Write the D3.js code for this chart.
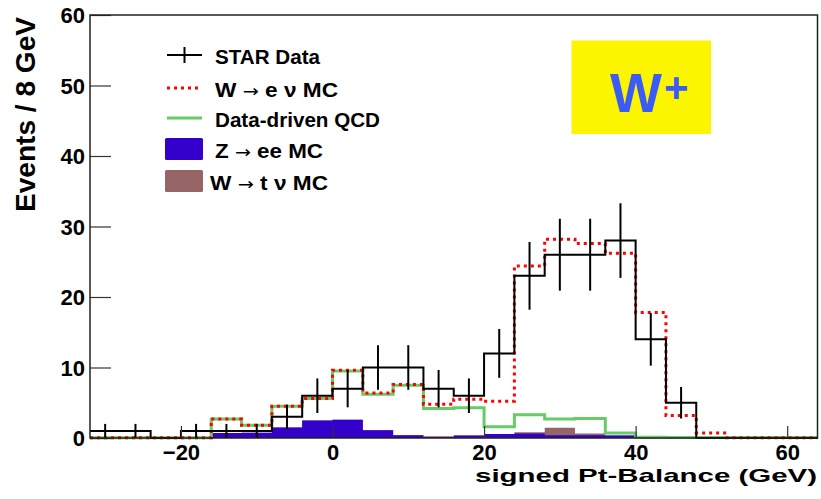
<!DOCTYPE html>
<html>
<head>
<meta charset="utf-8">
<script src="https://cdn.jsdelivr.net/npm/d3@7"></script>
<style>
  html, body { margin: 0; padding: 0; background: #fff; }
  svg text { font-family: "Liberation Sans", Arial, Helvetica, sans-serif; font-weight: bold; fill: #000; }
  svg tspan.arrow { font-family: "DejaVu Sans", sans-serif; font-weight: normal; }
</style>
</head>
<body>
<svg id="chart" width="821" height="499"></svg>
<script>
// bin lower edges (GeV), 4 GeV bins up to 64
const binLo = [-32, -28, -24, -20, -16, -12, -8, -4, 0, 4, 8, 12, 16, 20, 24, 28, 32, 36, 40, 44, 48, 52, 56, 60];
const binTop = 64;

// STAR data counts
const starData = [1, 1, 0, 1, 1, 1, 3, 6, 7, 10, 10, 7, 6, 12, 23, 26, 26, 28, 14, 5, 0, 0, 0, 0];
// W -> e nu MC (drawn dotted red)
const wenuMC = [0.05, 0.05, 0.05, 0.05, 2.7, 1.8, 4.5, 5.6, 9.6, 6.4, 7.6, 4.8, 5.5, 5.2, 24.4, 28.2, 27.6, 26.2, 17.8, 3.2, 0.7, 0.05, 0.05, 0.05];
// data-driven QCD background
const qcd = [0.05, 0.05, 0.05, 0.05, 2.7, 1.8, 4.5, 5.6, 9.5, 6.2, 7.5, 4.2, 4.3, 1.6, 3.3, 2.7, 2.75, 0.7, 0.1, 0.08, 0.08, 0.08, 0.08, 0.08];
// Z -> ee MC
const zee = [0, 0, 0, 0, 0.7, 0.75, 1.5, 2.5, 2.6, 1.1, 0.4, 0.15, 0.35, 0.55, 0.65, 0.4, 0.4, 0.35, 0, 0, 0, 0, 0, 0];
// W -> tau nu MC, stacked on Z
const wtau = [0, 0, 0, 0, 0, 0, 0, 0, 0, 0, 0, 0.1, 0, 0, 0.15, 1.05, 0.25, 0, 0, 0, 0, 0, 0, 0];

const xTicks = [-20, 0, 20, 40, 60];
const yTicks = [0, 10, 20, 30, 40, 50, 60];

// label pieces: [before arrow, after arrow]; no arrow when second part is null
const legendRows = [
    { parts: ['STAR Data', null], kind: 'data', w: 105 },
    { parts: ['W ', ' e \u03bd MC'], kind: 'red', w: 123 },
    { parts: ['Data-driven QCD', null], kind: 'green', w: 165 },
    { parts: ['Z ', ' ee MC'], kind: 'blue', w: 108 },
    { parts: ['W ', ' t \u03bd MC'], kind: 'brown', w: 118 }
];

const svg = d3.select('#chart');
const padL = 90, padR = 817.5, padT = 15, padB = 438;

const x = d3.scaleLinear().domain([-32, 64]).range([padL, padR]);
const y = d3.scaleLinear().domain([0, 60]).range([padB, padT]);

const COL_RED = '#ff0000', COL_GREEN = '#66cc66', COL_BLUE = '#3300cc', COL_BROWN = '#966666';

// points for a step histogram: one per lower edge, plus the closing edge
function stepPts(vals) {
    const pts = binLo.map((b, i) => [b, vals[i]]);
    pts.push([binTop, vals[vals.length - 1]]);
    return pts;
}

const stepLine = d3.line()
    .curve(d3.curveStepAfter)
    .x(d => x(d[0]))
    .y(d => y(d[1]));

const stepArea = d3.area()
    .curve(d3.curveStepAfter)
    .x(d => x(d[0]))
    .y0(y(0))
    .y1(d => y(d[1]));

const plot = svg.append('g');

// stacked fills: tau on top of Z
const zPlusTau = zee.map((v, i) => v + wtau[i]);
plot.append('path').attr('d', stepArea(stepPts(zPlusTau))).attr('fill', COL_BROWN);
plot.append('path').attr('d', stepArea(stepPts(zee))).attr('fill', COL_BLUE);

// axes (ticks point into the frame)
const xAxis = svg.append('g')
    .attr('transform', `translate(0,${padB})`)
    .call(d3.axisBottom(x).tickValues(xTicks).tickSize(-12).tickPadding(6));
const yAxis = svg.append('g')
    .attr('transform', `translate(${padL},0)`)
    .call(d3.axisLeft(y).tickValues(yTicks).tickSize(-21).tickPadding(5));
[xAxis, yAxis].forEach(g => {
    g.select('.domain').remove();
    g.selectAll('line').attr('stroke', '#333').attr('stroke-width', 1.2);
    g.selectAll('text').attr('font-size', 22).attr('fill', '#000');
});
yAxis.selectAll('text').attr('dy', '0.36em');

// QCD, W MC and data histograms
plot.append('path').attr('d', stepLine(stepPts(qcd)))
    .attr('fill', 'none').attr('stroke', COL_GREEN).attr('stroke-width', 3);
plot.append('path').attr('d', stepLine(stepPts(wenuMC)))
    .attr('fill', 'none').attr('stroke', COL_RED).attr('stroke-width', 3)
    .attr('stroke-dasharray', '3,4');
plot.append('path').attr('d', stepLine(stepPts(starData)))
    .attr('fill', 'none').attr('stroke', '#000').attr('stroke-width', 2);

// sqrt(N) error bars on the data
plot.selectAll('line.err')
    .data(starData.map((n, i) => ({ c: binLo[i] + 2, n })).filter(d => d.n > 0))
    .enter().append('line')
    .attr('class', 'err')
    .attr('x1', d => x(d.c)).attr('x2', d => x(d.c))
    .attr('y1', d => y(d.n - Math.sqrt(d.n)))
    .attr('y2', d => y(d.n + Math.sqrt(d.n)))
    .attr('stroke', '#000').attr('stroke-width', 2);

// frame
svg.append('rect')
    .attr('x', padL).attr('y', padT)
    .attr('width', padR - padL).attr('height', padB - padT)
    .attr('fill', 'none').attr('stroke', '#222').attr('stroke-width', 1.5);

// axis titles
svg.append('text')
    .attr('x', 817).attr('y', 482)
    .attr('text-anchor', 'end')
    .attr('font-size', 19)
    .attr('textLength', 342).attr('lengthAdjust', 'spacingAndGlyphs')
    .text('signed Pt-Balance (GeV)');
svg.append('text')
    .attr('transform', 'translate(35,17) rotate(-90)')
    .attr('text-anchor', 'end')
    .attr('font-size', 28)
    .attr('textLength', 195).attr('lengthAdjust', 'spacingAndGlyphs')
    .text('Events / 8 GeV');

// legend
const legend = svg.append('g');
const rowY = [55, 88, 118, 149, 181];
legendRows.forEach((r, i) => {
    const cy = rowY[i];
    const g = legend.append('g');
    if (r.kind === 'data') {
        g.append('line').attr('x1', 167).attr('x2', 202).attr('y1', cy).attr('y2', cy)
            .attr('stroke', '#000').attr('stroke-width', 2);
        g.append('line').attr('x1', 184.5).attr('x2', 184.5).attr('y1', cy - 8).attr('y2', cy + 8)
            .attr('stroke', '#000').attr('stroke-width', 2);
    } else if (r.kind === 'red') {
        g.append('line').attr('x1', 167).attr('x2', 199).attr('y1', cy).attr('y2', cy)
            .attr('stroke', COL_RED).attr('stroke-width', 3).attr('stroke-dasharray', '3,4');
    } else if (r.kind === 'green') {
        g.append('line').attr('x1', 167).attr('x2', 202).attr('y1', cy).attr('y2', cy)
            .attr('stroke', COL_GREEN).attr('stroke-width', 3);
    } else {
        g.append('rect').attr('x', 165).attr('y', cy - 11).attr('width', 38).attr('height', 22)
            .attr('rx', 1.5)
            .attr('fill', r.kind === 'blue' ? COL_BLUE : COL_BROWN);
    }
    const t = g.append('text')
        .attr('x', r.kind === 'brown' ? 210 : 215)
        .attr('y', cy + 8.5)
        .attr('font-size', 20)
        .attr('textLength', r.w).attr('lengthAdjust', 'spacingAndGlyphs');
    t.append('tspan').text(r.parts[0]);
    if (r.parts[1] !== null) {
        t.append('tspan').attr('class', 'arrow').attr('font-size', 17).text('\u2192');
        t.append('tspan').text(r.parts[1]);
    }
});

// W+ tag
svg.append('rect')
    .attr('x', 571.5).attr('y', 40.5).attr('width', 139.5).attr('height', 93.5)
    .attr('fill', '#fbf600');
svg.append('text')
    .attr('x', 610).attr('y', 112)
    .attr('font-size', 55)
    .style('fill', '#3c5af5')
    .text('W');
svg.append('text')
    .attr('x', 664).attr('y', 102)
    .attr('font-size', 42)
    .style('fill', '#3c5af5')
    .text('+');
</script>
</body>
</html>
